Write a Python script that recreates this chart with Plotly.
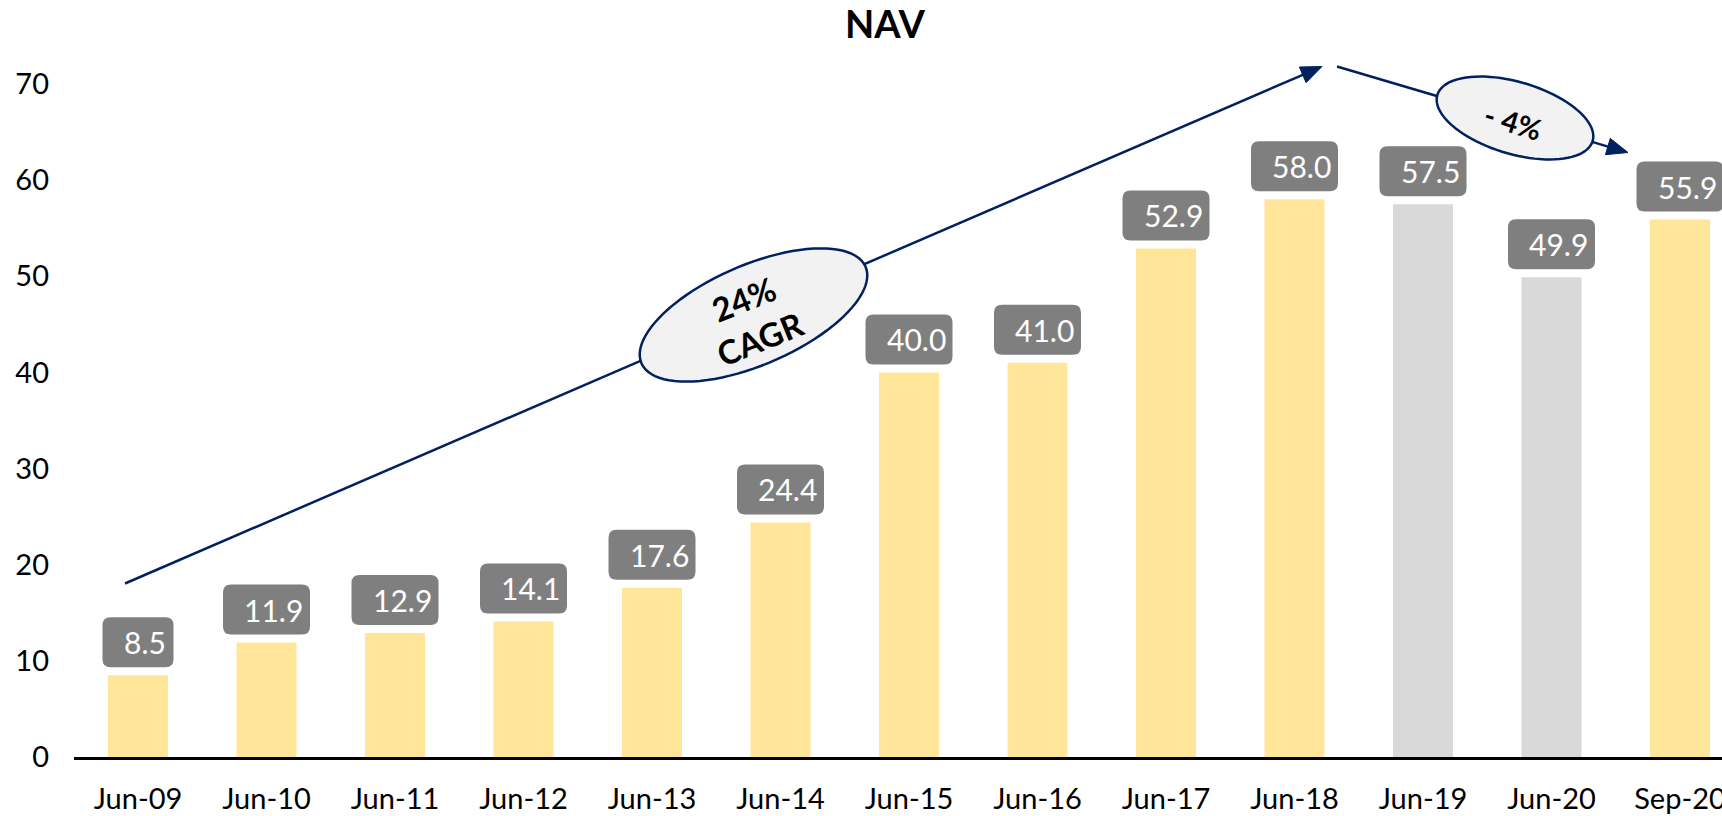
import math
import plotly.graph_objects as go

categories = ["Jun-09", "Jun-10", "Jun-11", "Jun-12", "Jun-13", "Jun-14", "Jun-15",
              "Jun-16", "Jun-17", "Jun-18", "Jun-19", "Jun-20", "Sep-20"]
nav_values = [8.5, 11.9, 12.9, 14.1, 17.6, 24.4, 40.0, 41.0, 52.9, 58.0, 57.5, 49.9, 55.9]
bar_colors = ["#FFE699"] * 10 + ["#D9D9D9"] * 2 + ["#FFE699"]
y_ticks = [0, 10, 20, 30, 40, 50, 60, 70]
cagr_text = "24%<br>CAGR"
drop_text = "- 4%"

W, H = 1722, 816
ML, MR, MT, MB = 74, 0, 83.5, 58.5
PW, PH = W - ML - MR, H - MT - MB
FONT = "Lato"
NAVY = "#002060"

x_idx = list(range(len(categories)))
spacing = 128.5
xr0 = -(138 - ML) / spacing
xr1 = xr0 + PW / spacing

fig = go.Figure()
fig.add_trace(go.Bar(x=x_idx, y=nav_values, marker=dict(color=bar_colors, line=dict(width=0)),
                     width=0.467, hoverinfo="skip"))

shapes = []
annotations = []


def rr_path(w, h, gap, r=8):
    x0, x1 = -w / 2, w / 2
    y0, y1 = gap, gap + h
    return (f"M {x0 + r},{y0} L {x1 - r},{y0} Q {x1},{y0} {x1},{y0 + r} "
            f"L {x1},{y1 - r} Q {x1},{y1} {x1 - r},{y1} L {x0 + r},{y1} "
            f"Q {x0},{y1} {x0},{y1 - r} L {x0},{y0 + r} Q {x0},{y0} {x0 + r},{y0} Z")


for i, v in zip(x_idx, nav_values):
    label = f"{v:.1f}"
    w = 71 if len(label) == 3 else 87
    shapes.append(dict(type="path", xref="x", yref="y", xsizemode="pixel", ysizemode="pixel",
                       xanchor=i, yanchor=v, path=rr_path(w, 50, 8),
                       fillcolor="#7F7F7F", line=dict(width=0), layer="above"))
    annotations.append(dict(x=i, y=v, xref="x", yref="y", text=label, showarrow=False,
                            xshift=7, yshift=33, xanchor="center", yanchor="middle",
                            font=dict(family=FONT, size=30, color="white")))


def P(px, py):
    return px - ML, (H - MB) - py


def poly_path(pts, close=True):
    s = "M " + " L ".join(f"{P(x, y)[0]:.2f},{P(x, y)[1]:.2f}" for x, y in pts)
    return s + (" Z" if close else "")


def pshape(path, **kw):
    d = dict(type="path", xref="paper", yref="paper", xsizemode="pixel", ysizemode="pixel",
             xanchor=0, yanchor=0, path=path, layer="above")
    d.update(kw)
    return d


def arrow(x0, y0, x1, y1, hl=21, hw=8.5):
    dx, dy = x1 - x0, y1 - y0
    n = math.hypot(dx, dy)
    ux, uy = dx / n, dy / n
    bx, by = x1 - ux * hl, y1 - uy * hl
    px_, py_ = -uy, ux
    shapes.append(pshape(poly_path([(x0, y0), (bx + ux * 2, by + uy * 2)], close=False),
                         line=dict(color=NAVY, width=2.5)))
    shapes.append(pshape(poly_path([(x1, y1), (bx + px_ * hw, by + py_ * hw), (bx - px_ * hw, by - py_ * hw)]),
                         fillcolor=NAVY, line=dict(color=NAVY, width=1)))


def ellipse(cx, cy, a, b, ang_deg, n=90):
    th = math.radians(ang_deg)
    pts = []
    for k in range(n):
        t = 2 * math.pi * k / n
        ex = a * math.cos(t)
        ey = b * math.sin(t)
        pts.append((cx + ex * math.cos(th) - ey * math.sin(th),
                    cy + ex * math.sin(th) + ey * math.cos(th)))
    shapes.append(pshape(poly_path(pts), fillcolor="#F2F2F2", line=dict(color=NAVY, width=2.5)))


def paper(px, py):
    return (px - ML) / PW, ((H - MB) - py) / PH


arrow(125, 584, 1322, 67)
arrow(1337, 67, 1628, 153)
ellipse(753.5, 315.5, 122, 50, -23.3)
ellipse(1515, 118.5, 81, 36, 16.5)

cx, cy = paper(752, 318)
annotations.append(dict(x=cx, y=cy, xref="paper", yref="paper", text=f"<b>{cagr_text}</b>",
                        showarrow=False, textangle=-22, xanchor="center", yanchor="middle",
                        font=dict(family=FONT, size=33, color="black")))
cx, cy = paper(1513, 121)
annotations.append(dict(x=cx, y=cy, xref="paper", yref="paper", text=f"<b>{drop_text}</b>",
                        showarrow=False, textangle=17, xanchor="center", yanchor="middle",
                        font=dict(family=FONT, size=29, color="black")))

fig.update_layout(
    width=W, height=H,
    margin=dict(l=ML, r=MR, t=MT, b=MB, autoexpand=False),
    paper_bgcolor="white", plot_bgcolor="white",
    showlegend=False,
    title=dict(text="<b>NAV</b>", x=885 / W, xref="container", xanchor="center",
               y=1 - 25 / H, yref="container", yanchor="middle",
               font=dict(family=FONT, size=38, color="black")),
    shapes=shapes, annotations=annotations,
)
fig.update_xaxes(range=[xr0, xr1], tickmode="array", tickvals=x_idx, ticktext=categories,
                 showgrid=False, zeroline=False, showline=True, linecolor="black", linewidth=2.5,
                 ticks="", tickfont=dict(family=FONT, size=29, color="black"),
                 ticklabelstandoff=14, ticklabeloverflow="allow",
                 automargin=False, fixedrange=True)
fig.update_yaxes(range=[0, 70], tickmode="array", tickvals=y_ticks,
                 showgrid=False, zeroline=False, showline=False, ticks="",
                 tickfont=dict(family=FONT, size=29, color="black"),
                 ticklabelstandoff=24, automargin=False, fixedrange=True)

fig.write_html("out.html", config={"displayModeBar": False},
               post_script="document.body.style.margin='0';document.body.style.overflow='hidden';")
